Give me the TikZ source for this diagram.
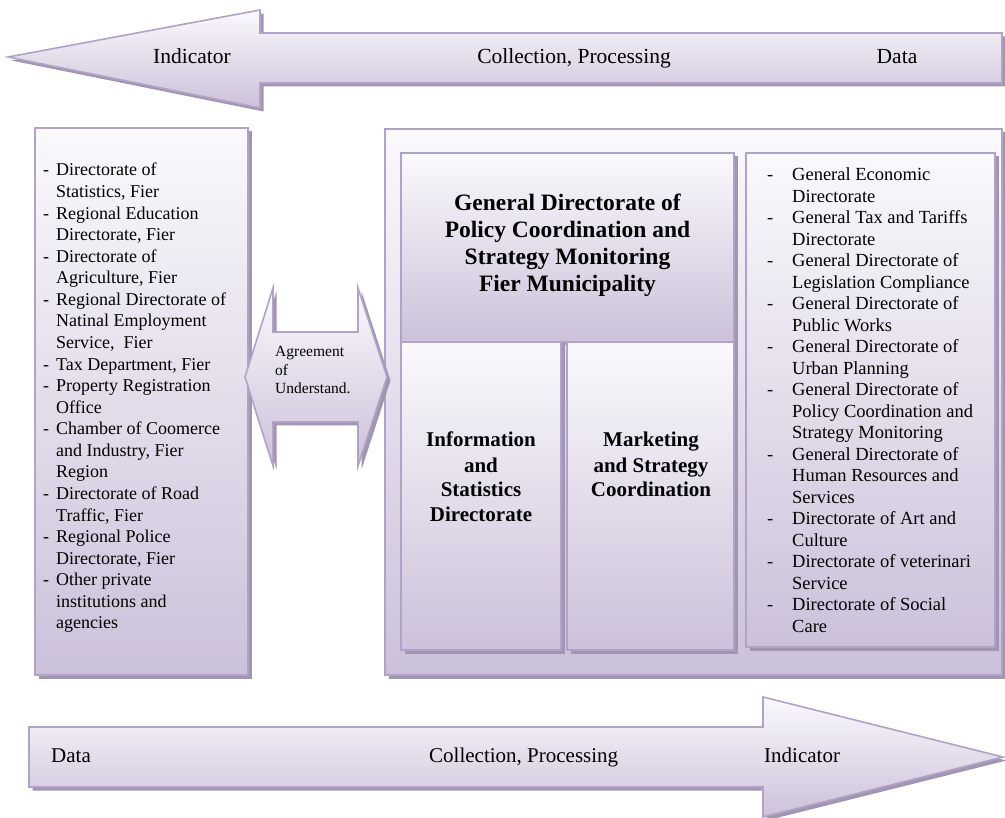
\documentclass[tikz,border=0pt]{standalone}
\usepackage{fontspec}
\setmainfont{Liberation Serif}
\usetikzlibrary{shadows}

\definecolor{edge}{RGB}{178,162,199}
\definecolor{topc}{RGB}{250,249,252}
\definecolor{botc}{RGB}{204,193,218}
\definecolor{shadowc}{RGB}{160,150,178}

% list helpers: a dash in a fixed-width slot, or the same gap for wrapped lines
\newcommand\lsdash[1]{\makebox[#1][l]{-}}
\newcommand\lsgap[1]{\hspace*{#1}}

\begin{document}
\begin{tikzpicture}[x=1pt,y=-1pt,
  shade/.style={top color=topc, bottom color=botc},
  panel/.style={draw=edge, line width=1.6pt, shade,
    drop shadow={shadow xshift=3.5pt, shadow yshift=-3.5pt, fill=shadowc, opacity=1}},
  boxnode/.style={panel, rectangle, inner sep=0pt},
  txt/.style={inner sep=0pt, anchor=base},
  txtw/.style={inner sep=0pt, anchor=base west}]

\useasboundingbox (0,0) rectangle (1005,818);

% flow arrow along the top, pointing left
\path[panel] (8,57) -- (260,10) -- (260,33) -- (1002,33) -- (1002,83)
  -- (260,83) -- (260,108) -- cycle;
\node[txt, font=\fontsize{21.5}{25}\selectfont] (topind) at (192,64) {Indicator};
\node[txt, font=\fontsize{21.5}{25}\selectfont] (topcp) at (574,64) {Collection, Processing};
\node[txt, font=\fontsize{21.5}{25}\selectfont] (topdata) at (897,64) {Data};

% external institutions
\node[boxnode, minimum width=213pt, minimum height=547pt] (sources) at (141.5,401.5) {};
\node[txtw] (sourcelist) at (43,176) {\parbox[t]{200pt}{\fontsize{18}{21.57}\selectfont\raggedright
\lsdash{13pt}Directorate of\\
\lsgap{13pt}Statistics, Fier\\
\lsdash{13pt}Regional Education\\
\lsgap{13pt}Directorate, Fier\\
\lsdash{13pt}Directorate of\\
\lsgap{13pt}Agriculture, Fier\\
\lsdash{13pt}Regional Directorate of\\
\lsgap{13pt}Natinal Employment\\
\lsgap{13pt}Service,\ \ Fier\\
\lsdash{13pt}Tax Department, Fier\\
\lsdash{13pt}Property Registration\\
\lsgap{13pt}Office\\
\lsdash{13pt}Chamber of Coomerce\\
\lsgap{13pt}and Industry, Fier\\
\lsgap{13pt}Region\\
\lsdash{13pt}Directorate of Road\\
\lsgap{13pt}Traffic, Fier\\
\lsdash{13pt}Regional Police\\
\lsgap{13pt}Directorate, Fier\\
\lsdash{13pt}Other private\\
\lsgap{13pt}institutions and\\
\lsgap{13pt}agencies}};

% municipality
\node[boxnode, minimum width=617pt, minimum height=546pt] (muni) at (693.5,402) {};

\node[boxnode, minimum width=333pt, minimum height=189pt] (gd) at (567.5,247.5) {};
\node[txt] (gdtext) at (567.5,211) {\parbox[t]{330pt}{\centering\bfseries\fontsize{23.5}{27}\selectfont
General Directorate of\\
Policy Coordination and\\
Strategy Monitoring\\
Fier Municipality}};

\node[boxnode, minimum width=160pt, minimum height=308pt] (info) at (481,496) {};
\node[txt] (infotext) at (481,447) {\parbox[t]{150pt}{\centering\bfseries\fontsize{21}{25}\selectfont
Information\\ and\\ Statistics\\ Directorate}};

\node[boxnode, minimum width=167pt, minimum height=308pt] (mkt) at (650.5,496) {};
\node[txt] (mkttext) at (651,447) {\parbox[t]{160pt}{\centering\bfseries\fontsize{21}{25}\selectfont
Marketing\\ and Strategy\\ Coordination}};

\node[boxnode, minimum width=249pt, minimum height=494pt] (depts) at (870.5,400) {};
\node[txtw] (deptlist) at (767,181) {\parbox[t]{222pt}{\fontsize{18.5}{21.5}\selectfont\raggedright
\lsdash{25pt}General Economic\\
\lsgap{25pt}Directorate\\
\lsdash{25pt}General Tax and Tariffs\\
\lsgap{25pt}Directorate\\
\lsdash{25pt}General Directorate of\\
\lsgap{25pt}Legislation Compliance\\
\lsdash{25pt}General Directorate of\\
\lsgap{25pt}Public Works\\
\lsdash{25pt}General Directorate of\\
\lsgap{25pt}Urban Planning\\
\lsdash{25pt}General Directorate of\\
\lsgap{25pt}Policy Coordination and\\
\lsgap{25pt}Strategy Monitoring\\
\lsdash{25pt}General Directorate of\\
\lsgap{25pt}Human Resources and\\
\lsgap{25pt}Services\\
\lsdash{25pt}Directorate of Art and\\
\lsgap{25pt}Culture\\
\lsdash{25pt}Directorate of veterinari\\
\lsgap{25pt}Service\\
\lsdash{25pt}Directorate of Social\\
\lsgap{25pt}Care}};

% two-way agreement arrow between the two sides
\path[panel] (245,377) -- (273,288) -- (273,332) -- (358,332) -- (358,288)
  -- (387,377) -- (358,466) -- (358,422) -- (273,422) -- (273,466) -- cycle;
\node[txtw] (agree) at (275,357) {\parbox[t]{90pt}{\fontsize{15.5}{18.5}\selectfont\raggedright
Agreement\\ of\\ Understand.}};

% flow arrow along the bottom, pointing right
\path[panel] (29,727) -- (763,727) -- (763,697) -- (1003,757) -- (763,817)
  -- (763,787) -- (29,787) -- cycle;
\node[txtw, font=\fontsize{21}{25}\selectfont] (botdata) at (51,762) {Data};
\node[txtw, font=\fontsize{21}{25}\selectfont] (botcp) at (429,762) {Collection, Processing};
\node[txtw, font=\fontsize{21}{25}\selectfont] (botind) at (764,762) {Indicator};

\end{tikzpicture}
\end{document}
